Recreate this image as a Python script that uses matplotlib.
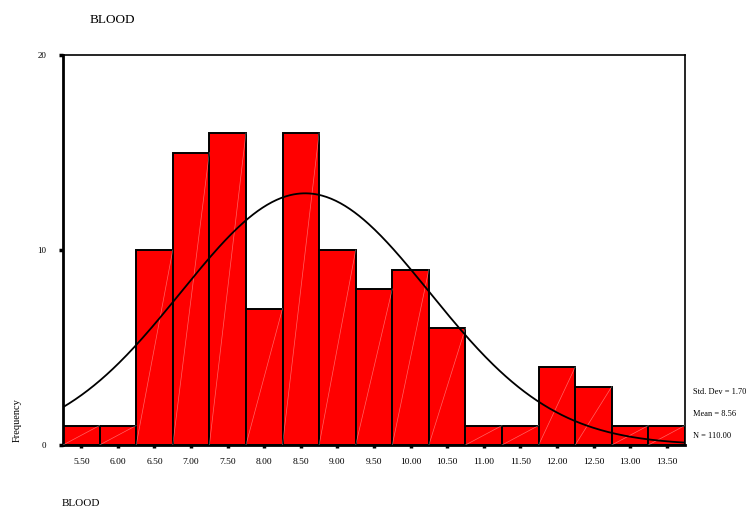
import numpy as np
import matplotlib.pyplot as plt

# histogram bins (midpoints) and counts for BLOOD
bin_mids = np.arange(5.5, 13.51, 0.5)
counts = [1, 1, 10, 15, 16, 7, 16, 10, 8, 9, 6, 1, 1, 4, 3, 1, 1]
bin_width = 0.5
std_dev = 1.70
mean = 8.56
n_total = 110

tick_labels = ["%.2f" % v for v in bin_mids]

plt.rcParams['font.family'] = ['Liberation Serif', 'DejaVu Serif']

fig = plt.figure(figsize=(7.48, 5.11), dpi=100)
ax = fig.add_axes([63 / 748, 1 - 445 / 511, 622 / 748, 390 / 511])

# bars
ax.bar(bin_mids, counts, width=bin_width, color='#ff0000',
       edgecolor='black', linewidth=1.4, zorder=2)

# faint diagonal lines inside every bar
for m, c in zip(bin_mids, counts):
    ax.plot([m - bin_width / 2, m + bin_width / 2], [0, c],
            color='white', lw=0.5, alpha=0.4, zorder=3)

# fitted normal curve
xs = np.linspace(5.25, 13.75, 400)
ys = n_total * bin_width / (std_dev * np.sqrt(2 * np.pi)) * \
    np.exp(-0.5 * ((xs - mean) / std_dev) ** 2)
ax.plot(xs, ys, color='black', lw=1.3, zorder=4)

ax.set_xlim(5.25, 13.75)
ax.set_ylim(0, 20)
ax.set_yticks([0, 10, 20])
ax.set_xticks(bin_mids)
ax.set_xticklabels(tick_labels)

ax.tick_params(axis='y', length=3, width=2.5, pad=9, labelsize=6.5)
ax.tick_params(axis='x', length=2.5, width=2.5, pad=7, labelsize=6.8,
               direction='out')

ax.spines['left'].set_linewidth(2)
ax.spines['bottom'].set_linewidth(2)
ax.spines['top'].set_linewidth(1.2)
ax.spines['right'].set_linewidth(1.2)

fig.text(90 / 748, 1 - 20 / 511, "BLOOD", fontsize=9.5, va='center')
fig.text(62 / 748, 1 - 503 / 511, "BLOOD", fontsize=8, va='center')
fig.text(17 / 748, 1 - 420 / 511, "Frequency", fontsize=7.5, rotation=90,
         ha='center', va='center')

fig.text(693 / 748, 1 - 392 / 511, "Std. Dev = %.2f" % std_dev, fontsize=6, va='center')
fig.text(693 / 748, 1 - 414 / 511, "Mean = %.2f" % mean, fontsize=6, va='center')
fig.text(693 / 748, 1 - 436 / 511, "N = %.2f" % n_total, fontsize=6, va='center')

fig.savefig("out.png", dpi=100)
